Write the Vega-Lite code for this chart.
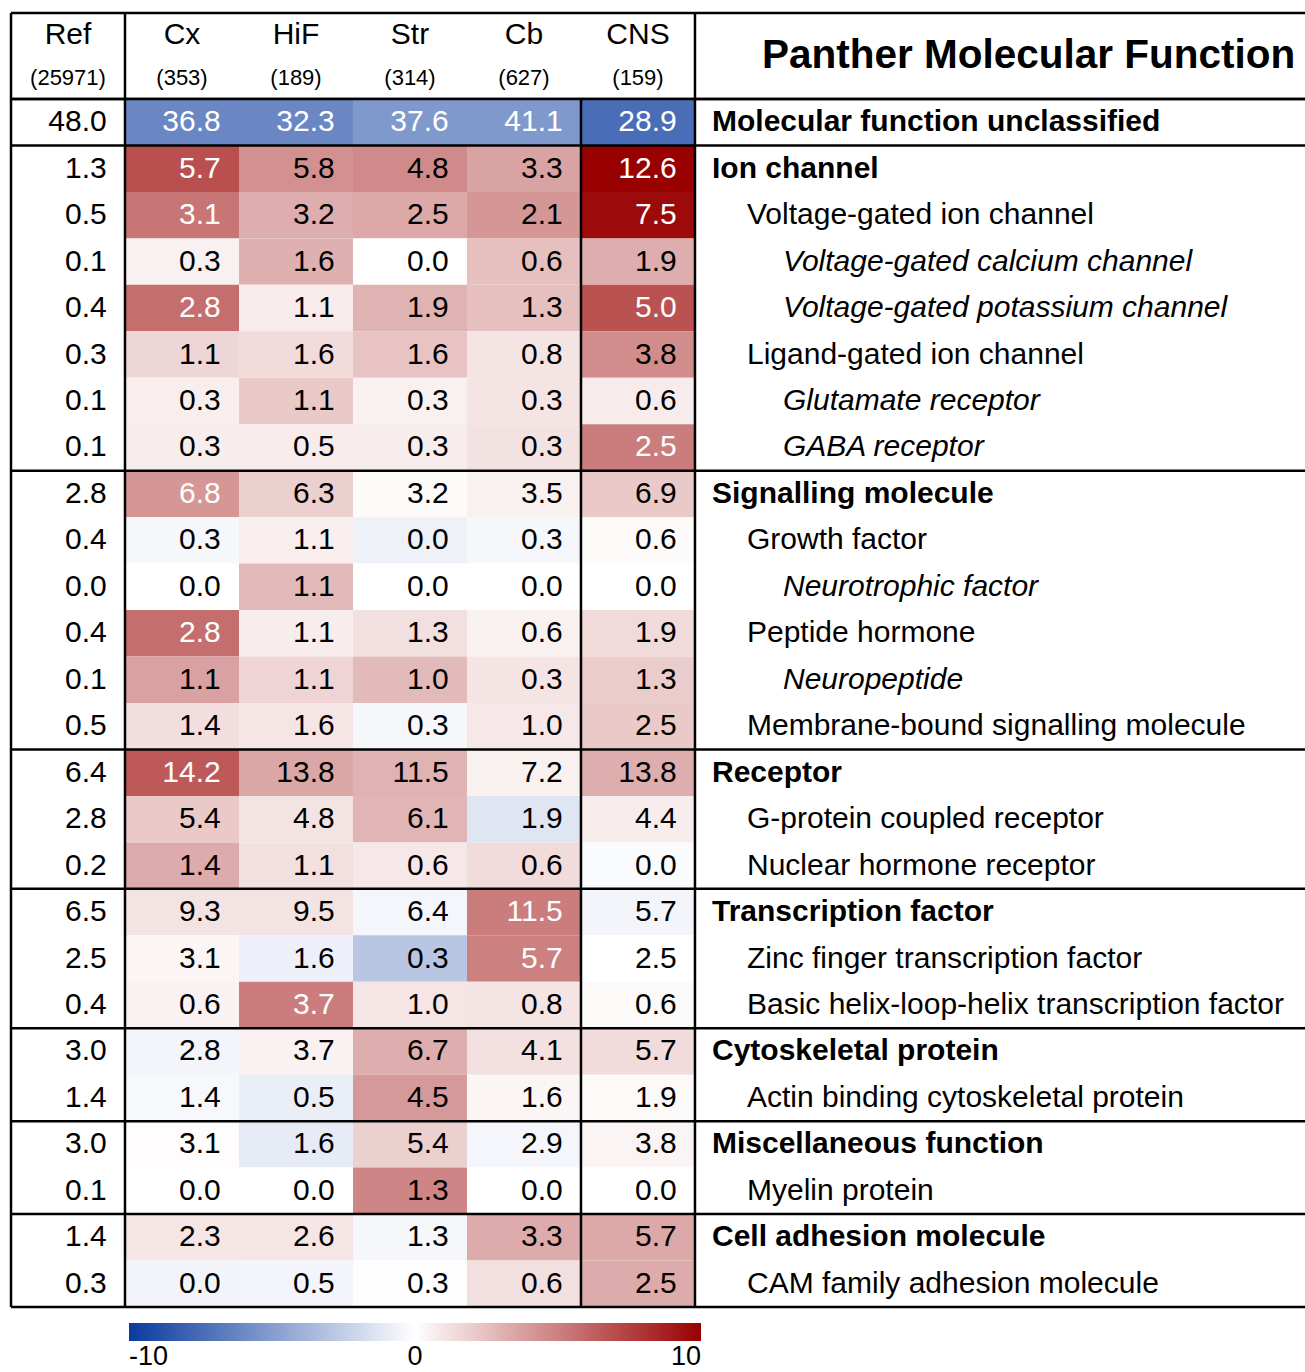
{
  "$schema": "https://vega.github.io/schema/vega-lite/v6.json",
  "padding": {"left": 9, "top": 11, "right": 0, "bottom": 0},
  "background": "white",
  "spacing": 0,
  "bounds": "flush",
  "config": {"font": "Liberation Sans", "view": {"stroke": null}},
  "datasets": {
    "header": [
      {"col": "Ref", "line": "name", "text": "Ref"}, {"col": "Ref", "line": "count", "text": "(25971)"},
      {"col": "Cx", "line": "name", "text": "Cx"}, {"col": "Cx", "line": "count", "text": "(353)"},
      {"col": "HiF", "line": "name", "text": "HiF"}, {"col": "HiF", "line": "count", "text": "(189)"},
      {"col": "Str", "line": "name", "text": "Str"}, {"col": "Str", "line": "count", "text": "(314)"},
      {"col": "Cb", "line": "name", "text": "Cb"}, {"col": "Cb", "line": "count", "text": "(627)"},
      {"col": "CNS", "line": "name", "text": "CNS"}, {"col": "CNS", "line": "count", "text": "(159)"},
      {"col": "Label", "line": "title", "text": "Panther Molecular Function"}
    ],
    "rows": [
      {"label": "Molecular function unclassified", "level": 1, "col": "Label"},
      {"label": "Ion channel", "level": 1, "col": "Label"},
      {"label": "Voltage-gated ion channel", "level": 2, "col": "Label"},
      {"label": "Voltage-gated calcium channel", "level": 3, "col": "Label"},
      {"label": "Voltage-gated potassium channel", "level": 3, "col": "Label"},
      {"label": "Ligand-gated ion channel", "level": 2, "col": "Label"},
      {"label": "Glutamate receptor", "level": 3, "col": "Label"},
      {"label": "GABA receptor", "level": 3, "col": "Label"},
      {"label": "Signalling molecule", "level": 1, "col": "Label"},
      {"label": "Growth factor", "level": 2, "col": "Label"},
      {"label": "Neurotrophic factor", "level": 3, "col": "Label"},
      {"label": "Peptide hormone", "level": 2, "col": "Label"},
      {"label": "Neuropeptide", "level": 3, "col": "Label"},
      {"label": "Membrane-bound signalling molecule", "level": 2, "col": "Label"},
      {"label": "Receptor", "level": 1, "col": "Label"},
      {"label": "G-protein coupled receptor", "level": 2, "col": "Label"},
      {"label": "Nuclear hormone receptor", "level": 2, "col": "Label"},
      {"label": "Transcription factor", "level": 1, "col": "Label"},
      {"label": "Zinc finger transcription factor", "level": 2, "col": "Label"},
      {"label": "Basic helix-loop-helix transcription factor", "level": 2, "col": "Label"},
      {"label": "Cytoskeletal protein", "level": 1, "col": "Label"},
      {"label": "Actin binding cytoskeletal protein", "level": 2, "col": "Label"},
      {"label": "Miscellaneous function", "level": 1, "col": "Label"},
      {"label": "Myelin protein", "level": 2, "col": "Label"},
      {"label": "Cell adhesion molecule", "level": 1, "col": "Label"},
      {"label": "CAM family adhesion molecule", "level": 2, "col": "Label"}
    ],
    "cells": [
      {"label": "Molecular function unclassified", "col": "Ref", "value": 48.0},
      {"label": "Molecular function unclassified", "col": "Cx", "value": 36.8, "score": -6.1, "sig": true},
      {"label": "Molecular function unclassified", "col": "HiF", "value": 32.3, "score": -6.1, "sig": true},
      {"label": "Molecular function unclassified", "col": "Str", "value": 37.6, "score": -5.2, "sig": true},
      {"label": "Molecular function unclassified", "col": "Cb", "value": 41.1, "score": -5.2, "sig": true},
      {"label": "Molecular function unclassified", "col": "CNS", "value": 28.9, "score": -7.4, "sig": true},
      {"label": "Ion channel", "col": "Ref", "value": 1.3},
      {"label": "Ion channel", "col": "Cx", "value": 5.7, "score": 6.9, "sig": true},
      {"label": "Ion channel", "col": "HiF", "value": 5.8, "score": 4.35, "sig": false},
      {"label": "Ion channel", "col": "Str", "value": 4.8, "score": 4.6, "sig": false},
      {"label": "Ion channel", "col": "Cb", "value": 3.3, "score": 3.6, "sig": false},
      {"label": "Ion channel", "col": "CNS", "value": 12.6, "score": 10, "sig": true},
      {"label": "Voltage-gated ion channel", "col": "Ref", "value": 0.5},
      {"label": "Voltage-gated ion channel", "col": "Cx", "value": 3.1, "score": 5.4, "sig": true},
      {"label": "Voltage-gated ion channel", "col": "HiF", "value": 3.2, "score": 3.2, "sig": false},
      {"label": "Voltage-gated ion channel", "col": "Str", "value": 2.5, "score": 3.4, "sig": false},
      {"label": "Voltage-gated ion channel", "col": "Cb", "value": 2.1, "score": 4.1, "sig": false},
      {"label": "Voltage-gated ion channel", "col": "CNS", "value": 7.5, "score": 9.6, "sig": true},
      {"label": "Voltage-gated calcium channel", "col": "Ref", "value": 0.1},
      {"label": "Voltage-gated calcium channel", "col": "Cx", "value": 0.3, "score": 0.55, "sig": false},
      {"label": "Voltage-gated calcium channel", "col": "HiF", "value": 1.6, "score": 3.1, "sig": false},
      {"label": "Voltage-gated calcium channel", "col": "Str", "value": 0.0, "score": 0, "sig": false},
      {"label": "Voltage-gated calcium channel", "col": "Cb", "value": 0.6, "score": 2.5, "sig": false},
      {"label": "Voltage-gated calcium channel", "col": "CNS", "value": 1.9, "score": 3.2, "sig": false},
      {"label": "Voltage-gated potassium channel", "col": "Ref", "value": 0.4},
      {"label": "Voltage-gated potassium channel", "col": "Cx", "value": 2.8, "score": 5.7, "sig": true},
      {"label": "Voltage-gated potassium channel", "col": "HiF", "value": 1.1, "score": 0.8, "sig": false},
      {"label": "Voltage-gated potassium channel", "col": "Str", "value": 1.9, "score": 3.0, "sig": false},
      {"label": "Voltage-gated potassium channel", "col": "Cb", "value": 1.3, "score": 2.5, "sig": false},
      {"label": "Voltage-gated potassium channel", "col": "CNS", "value": 5.0, "score": 6.8, "sig": true},
      {"label": "Ligand-gated ion channel", "col": "Ref", "value": 0.3},
      {"label": "Ligand-gated ion channel", "col": "Cx", "value": 1.1, "score": 1.6, "sig": false},
      {"label": "Ligand-gated ion channel", "col": "HiF", "value": 1.6, "score": 1.4, "sig": false},
      {"label": "Ligand-gated ion channel", "col": "Str", "value": 1.6, "score": 2.35, "sig": false},
      {"label": "Ligand-gated ion channel", "col": "Cb", "value": 0.8, "score": 1.05, "sig": false},
      {"label": "Ligand-gated ion channel", "col": "CNS", "value": 3.8, "score": 4.5, "sig": false},
      {"label": "Glutamate receptor", "col": "Ref", "value": 0.1},
      {"label": "Glutamate receptor", "col": "Cx", "value": 0.3, "score": 0.65, "sig": false},
      {"label": "Glutamate receptor", "col": "HiF", "value": 1.1, "score": 2.1, "sig": false},
      {"label": "Glutamate receptor", "col": "Str", "value": 0.3, "score": 0.6, "sig": false},
      {"label": "Glutamate receptor", "col": "Cb", "value": 0.3, "score": 1.05, "sig": false},
      {"label": "Glutamate receptor", "col": "CNS", "value": 0.6, "score": 0.8, "sig": false},
      {"label": "GABA receptor", "col": "Ref", "value": 0.1},
      {"label": "GABA receptor", "col": "Cx", "value": 0.3, "score": 0.7, "sig": false},
      {"label": "GABA receptor", "col": "HiF", "value": 0.5, "score": 0.8, "sig": false},
      {"label": "GABA receptor", "col": "Str", "value": 0.3, "score": 0.7, "sig": false},
      {"label": "GABA receptor", "col": "Cb", "value": 0.3, "score": 1.15, "sig": false},
      {"label": "GABA receptor", "col": "CNS", "value": 2.5, "score": 5.1, "sig": true},
      {"label": "Signalling molecule", "col": "Ref", "value": 2.8},
      {"label": "Signalling molecule", "col": "Cx", "value": 6.8, "score": 4.1, "sig": true},
      {"label": "Signalling molecule", "col": "HiF", "value": 6.3, "score": 1.9, "sig": false},
      {"label": "Signalling molecule", "col": "Str", "value": 3.2, "score": 0.2, "sig": false},
      {"label": "Signalling molecule", "col": "Cb", "value": 3.5, "score": 0.6, "sig": false},
      {"label": "Signalling molecule", "col": "CNS", "value": 6.9, "score": 2.1, "sig": false},
      {"label": "Growth factor", "col": "Ref", "value": 0.4},
      {"label": "Growth factor", "col": "Cx", "value": 0.3, "score": -0.4, "sig": false},
      {"label": "Growth factor", "col": "HiF", "value": 1.1, "score": 0.65, "sig": false},
      {"label": "Growth factor", "col": "Str", "value": 0.0, "score": -0.7, "sig": false},
      {"label": "Growth factor", "col": "Cb", "value": 0.3, "score": -0.4, "sig": false},
      {"label": "Growth factor", "col": "CNS", "value": 0.6, "score": 0.2, "sig": false},
      {"label": "Neurotrophic factor", "col": "Ref", "value": 0.0},
      {"label": "Neurotrophic factor", "col": "Cx", "value": 0.0, "score": 0, "sig": false},
      {"label": "Neurotrophic factor", "col": "HiF", "value": 1.1, "score": 2.7, "sig": false},
      {"label": "Neurotrophic factor", "col": "Str", "value": 0.0, "score": 0, "sig": false},
      {"label": "Neurotrophic factor", "col": "Cb", "value": 0.0, "score": 0, "sig": false},
      {"label": "Neurotrophic factor", "col": "CNS", "value": 0.0, "score": 0, "sig": false},
      {"label": "Peptide hormone", "col": "Ref", "value": 0.4},
      {"label": "Peptide hormone", "col": "Cx", "value": 2.8, "score": 5.7, "sig": true},
      {"label": "Peptide hormone", "col": "HiF", "value": 1.1, "score": 0.7, "sig": false},
      {"label": "Peptide hormone", "col": "Str", "value": 1.3, "score": 1.25, "sig": false},
      {"label": "Peptide hormone", "col": "Cb", "value": 0.6, "score": 0.6, "sig": false},
      {"label": "Peptide hormone", "col": "CNS", "value": 1.9, "score": 1.45, "sig": false},
      {"label": "Neuropeptide", "col": "Ref", "value": 0.1},
      {"label": "Neuropeptide", "col": "Cx", "value": 1.1, "score": 3.7, "sig": false},
      {"label": "Neuropeptide", "col": "HiF", "value": 1.1, "score": 1.7, "sig": false},
      {"label": "Neuropeptide", "col": "Str", "value": 1.0, "score": 2.7, "sig": false},
      {"label": "Neuropeptide", "col": "Cb", "value": 0.3, "score": 1.05, "sig": false},
      {"label": "Neuropeptide", "col": "CNS", "value": 1.3, "score": 2.0, "sig": false},
      {"label": "Membrane-bound signalling molecule", "col": "Ref", "value": 0.5},
      {"label": "Membrane-bound signalling molecule", "col": "Cx", "value": 1.4, "score": 1.3, "sig": false},
      {"label": "Membrane-bound signalling molecule", "col": "HiF", "value": 1.6, "score": 1.0, "sig": false},
      {"label": "Membrane-bound signalling molecule", "col": "Str", "value": 0.3, "score": -0.4, "sig": false},
      {"label": "Membrane-bound signalling molecule", "col": "Cb", "value": 1.0, "score": 0.9, "sig": false},
      {"label": "Membrane-bound signalling molecule", "col": "CNS", "value": 2.5, "score": 2.1, "sig": false},
      {"label": "Receptor", "col": "Ref", "value": 6.4},
      {"label": "Receptor", "col": "Cx", "value": 14.2, "score": 6.5, "sig": true},
      {"label": "Receptor", "col": "HiF", "value": 13.8, "score": 3.5, "sig": false},
      {"label": "Receptor", "col": "Str", "value": 11.5, "score": 3.0, "sig": false},
      {"label": "Receptor", "col": "Cb", "value": 7.2, "score": 0.6, "sig": false},
      {"label": "Receptor", "col": "CNS", "value": 13.8, "score": 3.2, "sig": false},
      {"label": "G-protein coupled receptor", "col": "Ref", "value": 2.8},
      {"label": "G-protein coupled receptor", "col": "Cx", "value": 5.4, "score": 2.1, "sig": false},
      {"label": "G-protein coupled receptor", "col": "HiF", "value": 4.8, "score": 1.1, "sig": false},
      {"label": "G-protein coupled receptor", "col": "Str", "value": 6.1, "score": 2.9, "sig": false},
      {"label": "G-protein coupled receptor", "col": "Cb", "value": 1.9, "score": -1.3, "sig": false},
      {"label": "G-protein coupled receptor", "col": "CNS", "value": 4.4, "score": 0.7, "sig": false},
      {"label": "Nuclear hormone receptor", "col": "Ref", "value": 0.2},
      {"label": "Nuclear hormone receptor", "col": "Cx", "value": 1.4, "score": 3.3, "sig": false},
      {"label": "Nuclear hormone receptor", "col": "HiF", "value": 1.1, "score": 1.25, "sig": false},
      {"label": "Nuclear hormone receptor", "col": "Str", "value": 0.6, "score": 0.9, "sig": false},
      {"label": "Nuclear hormone receptor", "col": "Cb", "value": 0.6, "score": 1.4, "sig": false},
      {"label": "Nuclear hormone receptor", "col": "CNS", "value": 0.0, "score": -0.2, "sig": false},
      {"label": "Transcription factor", "col": "Ref", "value": 6.5},
      {"label": "Transcription factor", "col": "Cx", "value": 9.3, "score": 1.1, "sig": false},
      {"label": "Transcription factor", "col": "HiF", "value": 9.5, "score": 1.1, "sig": false},
      {"label": "Transcription factor", "col": "Str", "value": 6.4, "score": -0.45, "sig": false},
      {"label": "Transcription factor", "col": "Cb", "value": 11.5, "score": 5.1, "sig": true},
      {"label": "Transcription factor", "col": "CNS", "value": 5.7, "score": -0.5, "sig": false},
      {"label": "Zinc finger transcription factor", "col": "Ref", "value": 2.5},
      {"label": "Zinc finger transcription factor", "col": "Cx", "value": 3.1, "score": 0.4, "sig": false},
      {"label": "Zinc finger transcription factor", "col": "HiF", "value": 1.6, "score": -0.75, "sig": false},
      {"label": "Zinc finger transcription factor", "col": "Str", "value": 0.3, "score": -2.9, "sig": false},
      {"label": "Zinc finger transcription factor", "col": "Cb", "value": 5.7, "score": 5.0, "sig": true},
      {"label": "Zinc finger transcription factor", "col": "CNS", "value": 2.5, "score": 0, "sig": false},
      {"label": "Basic helix-loop-helix transcription factor", "col": "Ref", "value": 0.4},
      {"label": "Basic helix-loop-helix transcription factor", "col": "Cx", "value": 0.6, "score": 0.5, "sig": false},
      {"label": "Basic helix-loop-helix transcription factor", "col": "HiF", "value": 3.7, "score": 5.1, "sig": true},
      {"label": "Basic helix-loop-helix transcription factor", "col": "Str", "value": 1.0, "score": 1.0, "sig": false},
      {"label": "Basic helix-loop-helix transcription factor", "col": "Cb", "value": 0.8, "score": 1.05, "sig": false},
      {"label": "Basic helix-loop-helix transcription factor", "col": "CNS", "value": 0.6, "score": 0.25, "sig": false},
      {"label": "Cytoskeletal protein", "col": "Ref", "value": 3.0},
      {"label": "Cytoskeletal protein", "col": "Cx", "value": 2.8, "score": -0.5, "sig": false},
      {"label": "Cytoskeletal protein", "col": "HiF", "value": 3.7, "score": 0.5, "sig": false},
      {"label": "Cytoskeletal protein", "col": "Str", "value": 6.7, "score": 3.2, "sig": false},
      {"label": "Cytoskeletal protein", "col": "Cb", "value": 4.1, "score": 1.2, "sig": false},
      {"label": "Cytoskeletal protein", "col": "CNS", "value": 5.7, "score": 1.4, "sig": false},
      {"label": "Actin binding cytoskeletal protein", "col": "Ref", "value": 1.4},
      {"label": "Actin binding cytoskeletal protein", "col": "Cx", "value": 1.4, "score": -0.35, "sig": false},
      {"label": "Actin binding cytoskeletal protein", "col": "HiF", "value": 0.5, "score": -0.85, "sig": false},
      {"label": "Actin binding cytoskeletal protein", "col": "Str", "value": 4.5, "score": 4.0, "sig": false},
      {"label": "Actin binding cytoskeletal protein", "col": "Cb", "value": 1.6, "score": 0.4, "sig": false},
      {"label": "Actin binding cytoskeletal protein", "col": "CNS", "value": 1.9, "score": 0.25, "sig": false},
      {"label": "Miscellaneous function", "col": "Ref", "value": 3.0},
      {"label": "Miscellaneous function", "col": "Cx", "value": 3.1, "score": 0.1, "sig": false},
      {"label": "Miscellaneous function", "col": "HiF", "value": 1.6, "score": -1.0, "sig": false},
      {"label": "Miscellaneous function", "col": "Str", "value": 5.4, "score": 1.85, "sig": false},
      {"label": "Miscellaneous function", "col": "Cb", "value": 2.9, "score": -0.45, "sig": false},
      {"label": "Miscellaneous function", "col": "CNS", "value": 3.8, "score": 0.45, "sig": false},
      {"label": "Myelin protein", "col": "Ref", "value": 0.1},
      {"label": "Myelin protein", "col": "Cx", "value": 0.0, "score": 0, "sig": false},
      {"label": "Myelin protein", "col": "HiF", "value": 0.0, "score": 0, "sig": false},
      {"label": "Myelin protein", "col": "Str", "value": 1.3, "score": 4.8, "sig": false},
      {"label": "Myelin protein", "col": "Cb", "value": 0.0, "score": 0, "sig": false},
      {"label": "Myelin protein", "col": "CNS", "value": 0.0, "score": 0, "sig": false},
      {"label": "Cell adhesion molecule", "col": "Ref", "value": 1.4},
      {"label": "Cell adhesion molecule", "col": "Cx", "value": 2.3, "score": 1.0, "sig": false},
      {"label": "Cell adhesion molecule", "col": "HiF", "value": 2.6, "score": 1.0, "sig": false},
      {"label": "Cell adhesion molecule", "col": "Str", "value": 1.3, "score": -0.4, "sig": false},
      {"label": "Cell adhesion molecule", "col": "Cb", "value": 3.3, "score": 3.3, "sig": false},
      {"label": "Cell adhesion molecule", "col": "CNS", "value": 5.7, "score": 3.4, "sig": false},
      {"label": "CAM family adhesion molecule", "col": "Ref", "value": 0.3},
      {"label": "CAM family adhesion molecule", "col": "Cx", "value": 0.0, "score": -0.55, "sig": false},
      {"label": "CAM family adhesion molecule", "col": "HiF", "value": 0.5, "score": -0.5, "sig": false},
      {"label": "CAM family adhesion molecule", "col": "Str", "value": 0.3, "score": 0.05, "sig": false},
      {"label": "CAM family adhesion molecule", "col": "Cb", "value": 0.6, "score": 1.25, "sig": false},
      {"label": "CAM family adhesion molecule", "col": "CNS", "value": 2.5, "score": 3.3, "sig": false}
    ]
  },
  "vconcat": [
    {
      "width": 1295,
      "height": 86,
      "data": {"name": "header"},
      "layer": [
        {
          "transform": [{"filter": "datum.line === 'name'"}],
          "mark": {"type": "text", "fontSize": 30, "baseline": "middle", "align": "center", "color": "black"},
          "encoding": {
            "x": {"field": "col", "type": "nominal", "axis": null, "scale": {"type": "band", "domain": ["Ref", "Cx", "HiF", "Str", "Cb", "CNS", "Label", "L2", "L3", "L4"], "paddingInner": 0, "paddingOuter": 0.68, "align": 0}},
            "y": {"field": "line", "type": "nominal", "axis": null, "scale": {"type": "band", "domain": ["name", "count"], "paddingInner": 0, "paddingOuter": 0}},
            "text": {"field": "text", "type": "nominal"}
          }
        },
        {
          "transform": [{"filter": "datum.line === 'count'"}],
          "mark": {"type": "text", "fontSize": 22, "baseline": "middle", "align": "center", "color": "black"},
          "encoding": {
            "x": {"field": "col", "type": "nominal", "axis": null},
            "y": {"field": "line", "type": "nominal", "axis": null},
            "text": {"field": "text", "type": "nominal"}
          }
        },
        {
          "transform": [{"filter": "datum.line === 'title'"}],
          "mark": {"type": "text", "fontSize": 40.5, "fontWeight": "bold", "baseline": "middle", "align": "left", "dx": 67, "color": "black"},
          "encoding": {
            "x": {"field": "col", "type": "nominal", "axis": null, "bandPosition": 0},
            "text": {"field": "text", "type": "nominal"}
          }
        },
        {
          "transform": [{"filter": "(datum.line === 'name' && (datum.col === 'Ref' || datum.col === 'Cx')) || datum.line === 'title'"}],
          "mark": {"type": "rule", "strokeWidth": 2.5, "color": "black"},
          "encoding": {
            "x": {"field": "col", "type": "nominal", "axis": null, "bandPosition": 0}
          }
        },
        {
          "transform": [{"filter": "datum.col === 'Ref' && datum.line === 'name'"}],
          "mark": {"type": "rule", "strokeWidth": 2.5, "color": "black"},
          "encoding": {
            "y": {"field": "line", "type": "nominal", "axis": null, "bandPosition": 0}
          }
        },
        {
          "transform": [{"filter": "datum.col === 'Ref' && datum.line === 'count'"}],
          "mark": {"type": "rule", "strokeWidth": 2.5, "color": "black"},
          "encoding": {
            "y": {"field": "line", "type": "nominal", "axis": null, "bandPosition": 1}
          }
        }
      ]
    },
    {
      "width": 1295,
      "height": 1208,
      "layer": [
        {
          "data": {"name": "cells"},
          "transform": [{"filter": "datum.col !== 'Ref'"}],
          "mark": {"type": "rect"},
          "encoding": {
            "x": {"field": "col", "type": "nominal", "axis": null, "scale": {"type": "band", "domain": ["Ref", "Cx", "HiF", "Str", "Cb", "CNS", "Label", "L2", "L3", "L4"], "paddingInner": 0, "paddingOuter": 0.68, "align": 0}},
            "y": {"field": "label", "type": "nominal", "axis": null, "scale": {"type": "band", "paddingInner": 0, "paddingOuter": 0, "domain": ["Molecular function unclassified", "Ion channel", "Voltage-gated ion channel", "Voltage-gated calcium channel", "Voltage-gated potassium channel", "Ligand-gated ion channel", "Glutamate receptor", "GABA receptor", "Signalling molecule", "Growth factor", "Neurotrophic factor", "Peptide hormone", "Neuropeptide", "Membrane-bound signalling molecule", "Receptor", "G-protein coupled receptor", "Nuclear hormone receptor", "Transcription factor", "Zinc finger transcription factor", "Basic helix-loop-helix transcription factor", "Cytoskeletal protein", "Actin binding cytoskeletal protein", "Miscellaneous function", "Myelin protein", "Cell adhesion molecule", "CAM family adhesion molecule"]}},
            "color": {
              "field": "score",
              "type": "quantitative",
              "scale": {"domain": [-10, 0, 10], "range": ["#0a3a9e", "#ffffff", "#990000"], "interpolate": "rgb"},
              "legend": {
                "orient": "none", "legendX": 118, "legendY": 1310, "direction": "horizontal",
                "gradientLength": 572, "gradientThickness": 18, "gradientStrokeWidth": 0,
                "title": null, "values": [-10, 0, 10], "labelFontSize": 27, "labelOffset": 3,
                "labelExpr": "datum.value < 0 ? '-' + (-datum.value) : '' + datum.value",
                "labelColor": "black", "labelFont": "Liberation Sans"
              }
            }
          }
        },
        {
          "data": {"name": "cells"},
          "mark": {"type": "text", "fontSize": 30, "align": "right", "baseline": "middle"},
          "encoding": {
            "x": {"field": "col", "type": "nominal", "axis": null, "bandPosition": 0.84},
            "y": {"field": "label", "type": "nominal", "axis": null},
            "text": {"field": "value", "type": "quantitative", "format": ".1f"},
            "color": {"condition": {"test": "datum.sig === true", "value": "white"}, "value": "black"}
          }
        },
        {
          "data": {"name": "rows"},
          "transform": [{"filter": "datum.level === 1"}],
          "mark": {"type": "text", "fontSize": 30, "fontWeight": "bold", "align": "left", "baseline": "middle", "dx": 17, "color": "black"},
          "encoding": {
            "x": {"field": "col", "type": "nominal", "axis": null, "bandPosition": 0},
            "y": {"field": "label", "type": "nominal", "axis": null},
            "text": {"field": "label", "type": "nominal"}
          }
        },
        {
          "data": {"name": "rows"},
          "transform": [{"filter": "datum.level === 2"}],
          "mark": {"type": "text", "fontSize": 30, "align": "left", "baseline": "middle", "dx": 52, "color": "black"},
          "encoding": {
            "x": {"field": "col", "type": "nominal", "axis": null, "bandPosition": 0},
            "y": {"field": "label", "type": "nominal", "axis": null},
            "text": {"field": "label", "type": "nominal"}
          }
        },
        {
          "data": {"name": "rows"},
          "transform": [{"filter": "datum.level === 3"}],
          "mark": {"type": "text", "fontSize": 30, "fontStyle": "italic", "align": "left", "baseline": "middle", "dx": 88, "color": "black"},
          "encoding": {
            "x": {"field": "col", "type": "nominal", "axis": null, "bandPosition": 0},
            "y": {"field": "label", "type": "nominal", "axis": null},
            "text": {"field": "label", "type": "nominal"}
          }
        },
        {
          "data": {"name": "header"},
          "transform": [{"filter": "(datum.line === 'name' && (datum.col === 'Ref' || datum.col === 'Cx' || datum.col === 'CNS')) || datum.line === 'title'"}],
          "mark": {"type": "rule", "strokeWidth": 2.5, "color": "black"},
          "encoding": {
            "x": {"field": "col", "type": "nominal", "axis": null, "bandPosition": 0}
          }
        },
        {
          "data": {"name": "rows"},
          "transform": [{"filter": "datum.level === 1"}],
          "mark": {"type": "rule", "strokeWidth": 2.5, "color": "black"},
          "encoding": {
            "y": {"field": "label", "type": "nominal", "axis": null, "bandPosition": 0}
          }
        },
        {
          "data": {"name": "rows"},
          "transform": [{"filter": "datum.label === 'CAM family adhesion molecule'"}],
          "mark": {"type": "rule", "strokeWidth": 2.5, "color": "black"},
          "encoding": {
            "y": {"field": "label", "type": "nominal", "axis": null, "bandPosition": 1}
          }
        }
      ]
    }
  ]
}
